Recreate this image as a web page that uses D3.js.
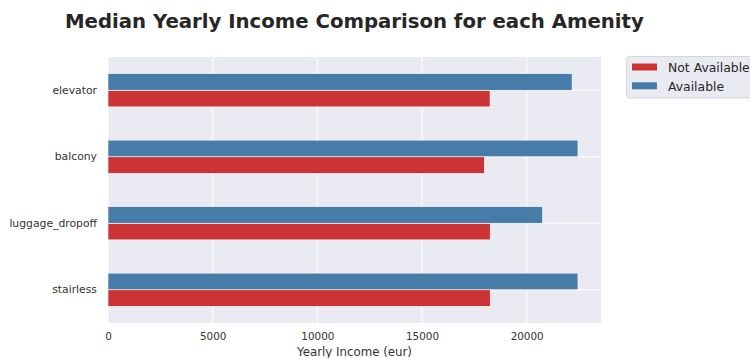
<!DOCTYPE html>
<html>
<head>
<meta charset="utf-8">
<script src="https://cdn.jsdelivr.net/npm/d3@7"></script>
<style>
  body { margin: 0; background: #fff; }
  svg { display: block; font-family: "DejaVu Sans", sans-serif; }
</style>
</head>
<body>
<svg id="chart" width="750" height="358"></svg>
<script>
// bottom to top, as pandas barh draws them
const amenities = ["stairless", "luggage_dropoff", "balcony", "elevator"];
const notAvailable = [18260, 18260, 17980, 18250];
const available = [22450, 20760, 22450, 22170];
const seriesNames = ["Not Available", "Available"];
const seriesColors = ["#cb3335", "#477ca8"];
const xTicks = [0, 5000, 10000, 15000, 20000];

const margin = { top: 57, left: 108, right: 149, bottom: 35 };
const width = 750 - margin.left - margin.right;
const height = 358 - margin.top - margin.bottom;

const svg = d3.select("#chart");

const x = d3.scaleLinear().domain([0, 23550]).range([0, width]);
const y = d3.scaleBand().domain(amenities).range([height, 0]);

const g = svg.append("g").attr("transform", `translate(${margin.left},${margin.top})`);

g.append("rect")
  .attr("width", width)
  .attr("height", height)
  .attr("fill", "#eaeaf2");

// grid
g.append("g")
  .selectAll("line")
  .data(xTicks)
  .join("line")
  .attr("x1", (d) => x(d))
  .attr("x2", (d) => x(d))
  .attr("y1", 0)
  .attr("y2", height)
  .attr("stroke", "#fff")
  .attr("stroke-width", 1);

g.append("g")
  .selectAll("line")
  .data(amenities)
  .join("line")
  .attr("x1", 0)
  .attr("x2", width)
  .attr("y1", (d) => y(d) + y.bandwidth() / 2)
  .attr("y2", (d) => y(d) + y.bandwidth() / 2)
  .attr("stroke", "#fff")
  .attr("stroke-width", 1);

// bars: Not Available below the centre line, Available above it
const barH = y.bandwidth() * 0.25;
const series = [notAvailable, available];
series.forEach((vals, s) => {
  g.append("g")
    .selectAll("rect")
    .data(amenities)
    .join("rect")
    .attr("x", 0)
    .attr("y", (d) => y(d) + y.bandwidth() / 2 + (s === 0 ? 0 : -barH))
    .attr("width", (d, i) => x(vals[i]))
    .attr("height", barH)
    .attr("fill", seriesColors[s])
    .attr("stroke", "#fff")
    .attr("stroke-width", 0.6);
});

// axes
const xAxis = d3.axisBottom(x)
  .tickValues(xTicks)
  .tickFormat(d3.format("d"))
  .tickSize(0)
  .tickPadding(10);
g.append("g")
  .attr("transform", `translate(0,${height})`)
  .call(xAxis)
  .call((a) => a.select(".domain").remove())
  .selectAll("text")
  .attr("font-size", 10.4)
  .attr("fill", "#333")
  .attr("font-family", "DejaVu Sans");

const yAxis = d3.axisLeft(y).tickSize(0).tickPadding(11);
g.append("g")
  .call(yAxis)
  .call((a) => a.select(".domain").remove())
  .selectAll("text")
  .attr("font-size", 10.8)
  .attr("fill", "#333")
  .attr("font-family", "DejaVu Sans");

svg.append("text")
  .attr("x", margin.left + width / 2)
  .attr("y", 356)
  .attr("text-anchor", "middle")
  .attr("font-size", 11.8)
  .attr("fill", "#333")
  .text("Yearly Income (eur)");

svg.append("text")
  .attr("x", 65)
  .attr("y", 28)
  .attr("font-size", 19.7)
  .attr("font-weight", "bold")
  .attr("fill", "#262626")
  .text("Median Yearly Income Comparison for each Amenity");

// legend
const legend = svg.append("g").attr("transform", "translate(626.5,56.5)");
legend.append("rect")
  .attr("width", 140)
  .attr("height", 41.5)
  .attr("rx", 3)
  .attr("fill", "#eaeaf2")
  .attr("stroke", "#d5d5dd");
seriesNames.forEach((name, i) => {
  legend.append("rect")
    .attr("x", 5.5)
    .attr("y", 7 + i * 18.8)
    .attr("width", 25)
    .attr("height", 7)
    .attr("fill", seriesColors[i]);
  legend.append("text")
    .attr("x", 41.5)
    .attr("y", 15.3 + i * 19.2)
    .attr("font-size", 12.4)
    .attr("fill", "#262626")
    .text(name);
});
</script>
</body>
</html>
